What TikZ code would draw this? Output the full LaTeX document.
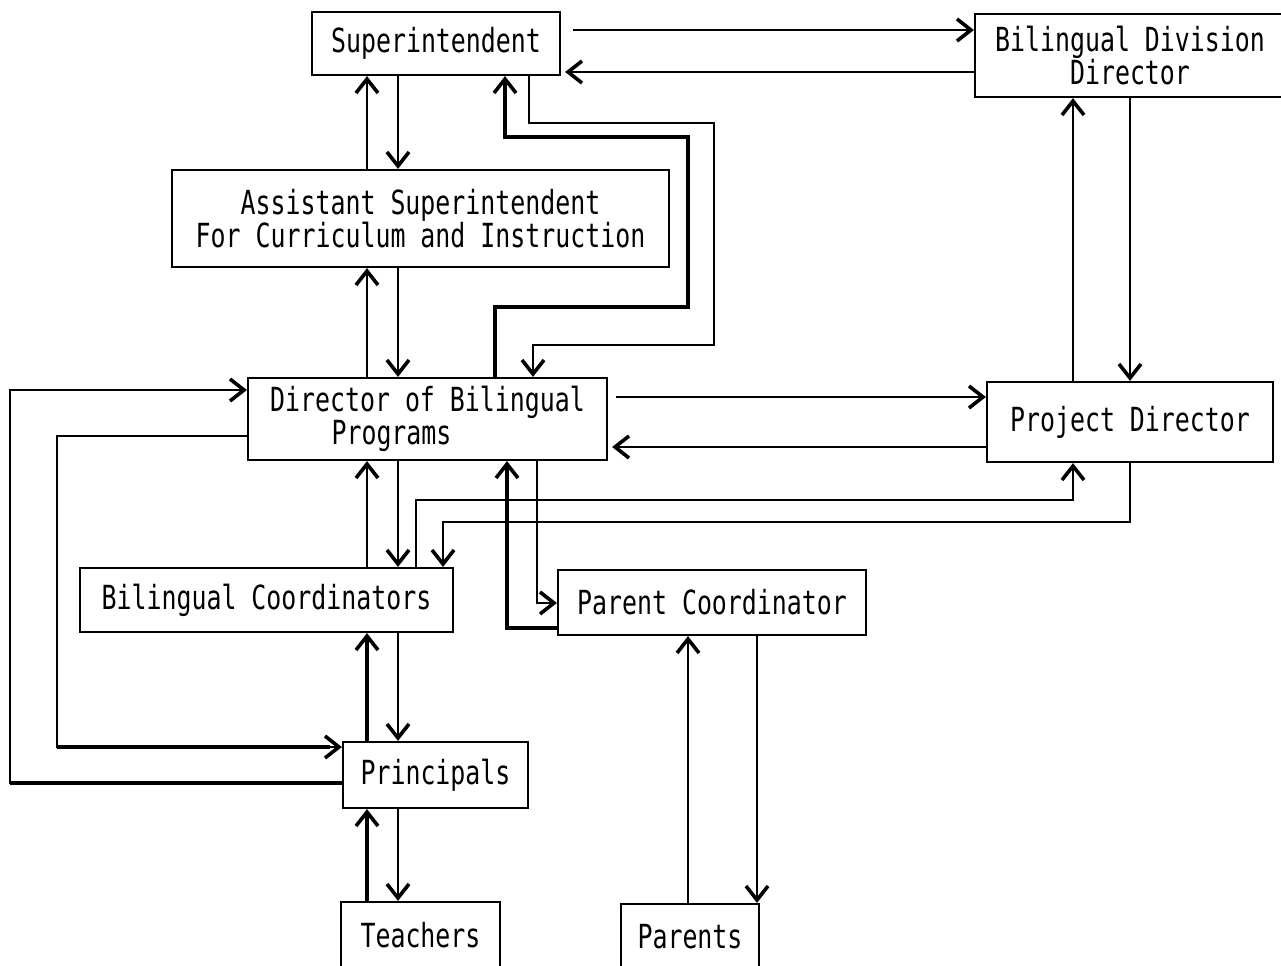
\documentclass[tikz,border=0pt]{standalone}
\usepackage{fontspec}
\newfontfamily\diagfont[FakeStretch=0.75]{DejaVu Sans Mono}
\usetikzlibrary{arrows.meta}
\begin{document}
\begin{tikzpicture}[x=0.5pt,y=-0.5pt,
  box/.style={draw, line width=1.1pt, inner sep=1pt, align=center,
    font=\diagfont\fontsize{16.6}{16.5}\selectfont},
  ln/.style={line width=1.1pt},
  thk/.style={line width=1.9pt},
  arr/.style={-{Straight Barb[length=7pt,width=11pt,line width=1.8pt]}}]
\useasboundingbox[fill=white] (0,0) rectangle (1281,965);

% boxes
\node[box, minimum width=124pt, minimum height=31.5pt] (sup) at (436,43.5) {Superintendent};
\node[box, minimum width=155pt, minimum height=41.5pt] (bdd) at (1130,55.5) {Bilingual Division\\Director};
\node[box, minimum width=248.5pt, minimum height=48.5pt] (as) at (420.5,218.5) {Assistant Superintendent\\For Curriculum and Instruction};
\node[box, minimum width=179.5pt, minimum height=41pt] (dir) at (427.5,419) {Director of Bilingual\\Programs\hspace*{36pt}};
\node[box, minimum width=143pt, minimum height=40pt] (pd) at (1130,422) {Project Director};
\node[box, minimum width=186.5pt, minimum height=32pt] (bc) at (266.5,600) {Bilingual Coordinators};
\node[box, minimum width=154pt, minimum height=32.5pt] (pc) at (712,602.5) {Parent Coordinator};
\node[box, minimum width=92.5pt, minimum height=33pt] (pri) at (435.5,775) {Principals};
\node[box, minimum width=79.5pt, minimum height=33pt] (tea) at (420.5,935) {Teachers};
\node[box, minimum width=69pt, minimum height=33pt] (par) at (690,937) {Parents};

% column / row helpers
\foreach \c in {10,57,367,398,416,443,495,505,507,529,533,537,688,714,757,1073,1130}
  \coordinate (c\c) at (\c,0);
\foreach \r in {30,72,123,137,307,345,390,397,436,447,500,522,603,628,747,783}
  \coordinate (r\r) at (0,\r);

% Superintendent <-> Bilingual Division Director
\draw[ln,arr] ([xshift=6pt]sup.east |- r30) -- (bdd.west |- r30);
\draw[ln,arr] (bdd.west |- r72) -- ([xshift=2pt]sup.east |- r72);

% Superintendent <-> Assistant Superintendent
\draw[ln,arr] (as.north -| c367) -- (sup.south -| c367);
\draw[ln,arr] (sup.south -| c398) -- (as.north -| c398);

% Assistant Superintendent <-> Director
\draw[ln,arr] (dir.north -| c367) -- (as.south -| c367);
\draw[ln,arr] (as.south -| c398) -- (dir.north -| c398);

% Director <-> Superintendent (bypass)
\draw[thk,arr] (dir.north -| c495) |- (r307 -| c688) |- (r137 -| c505) -- (sup.south -| c505);
\draw[ln,arr] (sup.south -| c529) |- (r123 -| c714) |- (r345 -| c533) -- (dir.north -| c533);

% Director <-> Project Director
\draw[ln,arr] ([xshift=4pt]dir.east |- r397) -- (pd.west |- r397);
\draw[ln,arr] (pd.west |- r447) -- ([xshift=2pt]dir.east |- r447);

% Project Director <-> Bilingual Division Director
\draw[ln,arr] (pd.north -| c1073) -- (bdd.south -| c1073);
\draw[ln,arr] (bdd.south -| c1130) -- (pd.north -| c1130);

% Director <-> Principals (left loops)
\draw[ln,arr] (dir.west |- r436) -| (c57 |- r747) -- (pri.west |- r747);
\draw[thk] (c57 |- r747) -- ([xshift=-6pt]pri.west |- r747);
\draw[ln,arr] (pri.west |- r783) -| (c10 |- r390) -- (dir.west |- r390);
\draw[thk] (pri.west |- r783) -- (c10 |- r783);

% Director <-> Bilingual Coordinators
\draw[ln,arr] (bc.north -| c367) -- (dir.south -| c367);
\draw[ln,arr] (dir.south -| c398) -- (bc.north -| c398);

% Bilingual Coordinators <-> Project Director
\draw[ln,arr] (bc.north -| c416) |- (r500 -| c1073) -- (pd.south -| c1073);
\draw[ln,arr] (pd.south -| c1130) |- (r522 -| c443) -- (bc.north -| c443);

% Director <-> Parent Coordinator
\draw[thk,arr] (pc.west |- r628) -| (dir.south -| c507);
\draw[ln,arr] (dir.south -| c537) |- (pc.west |- r603);

% Bilingual Coordinators <-> Principals
\draw[thk,arr] (pri.north -| c367) -- (bc.south -| c367);
\draw[ln,arr] (bc.south -| c398) -- (pri.north -| c398);

% Principals <-> Teachers
\draw[thk,arr] (tea.north -| c367) -- (pri.south -| c367);
\draw[ln,arr] (pri.south -| c398) -- (tea.north -| c398);

% Parent Coordinator <-> Parents
\draw[ln,arr] (par.north -| c688) -- (pc.south -| c688);
\draw[ln,arr] (pc.south -| c757) -- (par.north -| c757);
\end{tikzpicture}
\end{document}
